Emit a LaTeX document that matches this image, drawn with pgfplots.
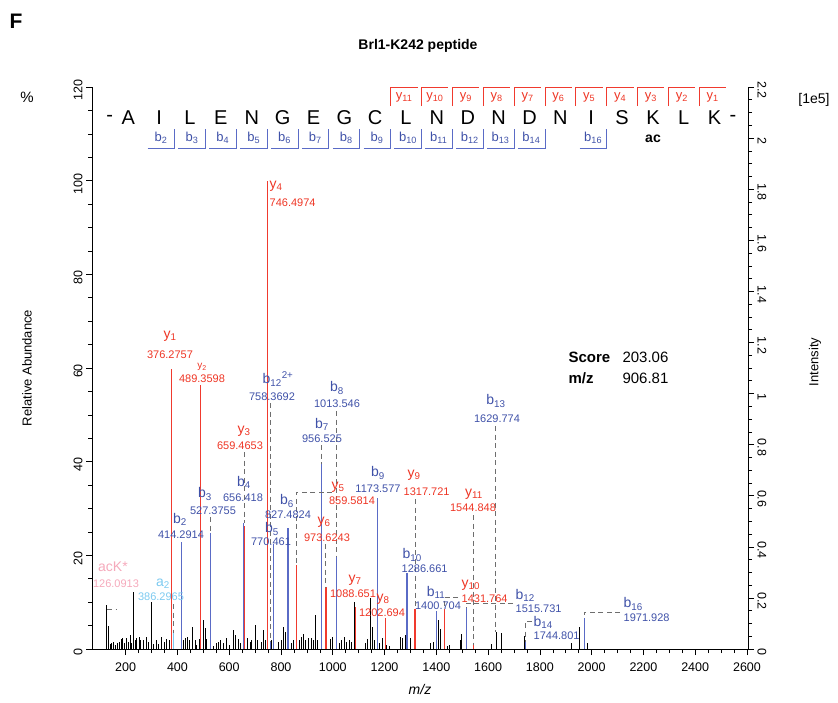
\documentclass[border=0pt]{standalone}
\usepackage{pgfplots}
\pgfplotsset{compat=1.18}
\usepackage{pgfplotstable}
\usepackage{fontspec}
\setmainfont{Liberation Sans}
\definecolor{yred}{HTML}{EE3524}
\definecolor{ylin}{HTML}{F03A2E}
\definecolor{bblue}{HTML}{3F51A8}
\definecolor{blin}{HTML}{5A6BC6}
\definecolor{alblue}{HTML}{7DCAF0}
\definecolor{pinkc}{HTML}{F5A9BB}
\definecolor{dgray}{HTML}{6E6E6E}

\pgfplotstableread{
mz pct
126.09 9.4
133.3 4.9
139.7 1.0
146.2 1.2
152.6 1.6
160 0.8
168 1.2
175.8 1.6
182.2 2.1
188.7 2.3
193.8 1.2
201.5 2.4
210.5 1.6
217 3.0
223.4 1.2
229.9 12.2
236.3 1.9
242.8 2.3
253 2.6
258.2 1.9
268.5 1.9
278.8 2.6
287.8 1.6
300.7 10.1
307.1 1.0
317.4 1.9
326.4 1.0
339.3 2.6
348.3 1.6
358.6 2.1
368.9 1.9
423 1.9
429.4 2.3
438.4 2.6
446.2 1.9
459.1 4.6
468 1.9
474.5 0.8
484.8 2.1
500.2 6.2
506.7 4.4
513.1 2.1
538.9 0.7
551.8 1.2
558.2 1.6
564.6 1.9
577.5 1.2
590.4 2.4
599.4 0.9
616.1 4.1
625.1 3.0
635.4 2.1
644.5 1.2
671.5 2.3
680.5 1.6
687 1.9
702.4 5.1
708.8 1.9
723 1.6
732 4.1
738.4 1.9
764.2 1.9
789.9 1.6
800.2 1.9
809.2 4.6
815.7 3.7
838.9 1.2
847.9 1.9
869.8 1.9
880.1 2.6
886.5 3.3
895.5 1.9
905.8 2.3
916.1 2.3
925.1 2.0
931.6 7.3
940.6 1.9
989.5 2.1
998.5 2.6
1024.3 1.2
1034.6 1.9
1044.9 2.6
1053.9 1.6
1062.9 1.9
1073.2 1.6
1082.2 10.1
1124.7 1.2
1133.7 2.1
1144 10.8
1154.3 4.6
1160.7 1.9
1180 1.2
1191.6 2.4
1208.4 0.9
1218.7 0.7
1260 2.6
1270.2 2.3
1279.2 3.0
1298.5 2.4
1375.8 1.2
1388.6 1.6
1407.9 6.3
1414.4 4.3
1442.7 0.7
1450.4 0.9
1491.6 1.9
1498.1 3.2
1611.4 1.0
1631 3.7
1650 3.5
1740 2.8
1922.9 1.2
1952.6 4.8
1983.4 1.2
}\blackpeaks

\pgfplotstableread{
mz pct
376.2757 59.7
489.3598 56.4
659.4653 26.2
746.4974 100
859.5814 17.9
973.6243 13.2
1088.651 9.0
1202.694 6.6
1317.721 8.5
1431.764 8.6
1544.848 0.8
}\ypeaks

\pgfplotstableread{
mz pct
414.2914 22.9
527.3755 24.7
656.418 26.8
758.3692 1.5
770.461 22.4
827.4824 25.8
956.525 39.4
1013.546 19.9
1173.577 32.2
1286.661 16.2
1400.704 8.1
1515.731 8.7
1744.801 1.5
1971.928 6.6
}\bpeaks

\pgfplotstableread{
mz pct
386.2965 3.4
}\apeaks

\begin{document}
\begin{tikzpicture}
\begin{scope}[x=1pt,y=-1pt]
\useasboundingbox (0,0) rectangle (838,702);
\end{scope}

\begin{axis}[
  at={(92pt,-649pt)}, anchor=south west,
  scale only axis, width=656pt, height=562pt,
  xmin=70, xmax=2604, ymin=0, ymax=120,
  axis x line*=bottom, axis y line*=left,
  xtick={200,400,...,2600}, minor x tick num=3,
  ytick={0,20,...,120}, minor y tick num=3,
  tick align=outside,
  major tick length=6pt, minor tick length=4pt,
  every tick/.style={black, line width=0.6pt},
  axis line style={line width=0.8pt},
  /pgf/number format/assume math mode=true,
  /pgf/number format/1000 sep={},
  xticklabel style={font=\fontsize{12.5}{14}\selectfont, yshift=-4pt},
  yticklabel style={font=\fontsize{12.5}{14}\selectfont, rotate=90, anchor=south, xshift=-3pt},
  clip=false,
]
\addplot[ycomb, black, line width=1pt, no markers] table[x=mz,y=pct] {\blackpeaks};
\addplot[ycomb, ylin, line width=1.2pt, no markers] table[x=mz,y=pct] {\ypeaks};
\addplot[ycomb, blin, line width=1.2pt, no markers] table[x=mz,y=pct] {\bpeaks};
\addplot[ycomb, alblue, line width=1.2pt, no markers] table[x=mz,y=pct] {\apeaks};
\end{axis}

\begin{axis}[
  at={(92pt,-649pt)}, anchor=south west,
  scale only axis, width=656pt, height=562pt,
  xmin=70, xmax=2604, ymin=0, ymax=2.2,
  axis y line*=right, hide x axis,
  ytick={0,0.2,0.4,0.6,0.8,1,1.2,1.4,1.6,1.8,2,2.2}, minor y tick num=3,
  tick align=outside,
  major tick length=6pt, minor tick length=4pt,
  every tick/.style={black, line width=0.6pt},
  axis line style={line width=0.8pt},
  /pgf/number format/assume math mode=true,
  yticklabel style={font=\fontsize{12.5}{14}\selectfont, rotate=-90, anchor=south, xshift=3pt},
]
\addplot[draw=none] coordinates {(100,0)};
\end{axis}

\begin{scope}[x=1pt,y=-1pt]
% titles and axis labels
\node[font=\fontsize{21}{24}\selectfont\bfseries] at (16,21) {F};
\node[font=\fontsize{14}{17}\selectfont\bfseries] at (418,46) {Brl1-K242 peptide};
\node[font=\fontsize{15}{18}\selectfont] at (27,97) {\%};
\node[font=\fontsize{14}{17}\selectfont] at (814,100) {[1e5]};
\node[font=\fontsize{13}{16}\selectfont, rotate=90] at (27,368) {Relative Abundance};
\node[font=\fontsize{13}{16}\selectfont, rotate=90] at (815,362) {Intensity};
\node[font=\fontsize{14}{17}\selectfont\itshape] at (420,689) {m/z};

% sequence
\node[font=\fontsize{20}{24}\selectfont] at (109.6,118) {-};
\node[font=\fontsize{20}{24}\selectfont] at (733,118) {-};
\foreach \l [count=\i] in {A,I,L,E,N,G,E,G,C,L,N,D,N,D,N,I,S,K,L,K}
  \node[font=\fontsize{20}{24}\selectfont] at ({128.3+(\i-1)*30.86},118) {\l};
\node[font=\fontsize{14}{16}\selectfont\bfseries] at (653,139) {ac};
\foreach \k in {1,...,11} {
  \pgfmathsetmacro\cx{128.3+(19-\k)*30.86+15.43}
  \draw[ylin, line width=0.8pt] (\cx,106) -- (\cx,87) -- (\cx+27,87);
  \node[yred, font=\fontsize{13}{14}\selectfont] at (\cx+13.5,97) {y\textsubscript{\k}};
}
\foreach \n in {2,...,14,16} {
  \pgfmathsetmacro\cx{128.3+(\n-1)*30.86+15.43}
  \draw[blin, line width=0.8pt] (\cx-27,148) -- (\cx,148) -- (\cx,129);
  \node[bblue, font=\fontsize{13}{14}\selectfont] at (\cx-13.5,138) {b\textsubscript{\n}};
}

% score
\node[anchor=west, font=\fontsize{15}{18}\selectfont\bfseries] at (565,357) {Score};
\node[anchor=west, font=\fontsize{15}{18}\selectfont] at (619,357) {203.06};
\node[anchor=west, font=\fontsize{15}{18}\selectfont\bfseries] at (565,378) {m/z};
\node[anchor=west, font=\fontsize{15}{18}\selectfont] at (619,378) {906.81};

% leader lines
\begin{scope}[dgray, line width=0.9pt, dash pattern=on 5pt off 3.5pt]
\draw (107,609) -- (116,609);
\draw (173.8,604) -- (173.8,633);
\draw (270.2,403) -- (270.2,642);
\draw (244.6,452) -- (244.6,523);
\draw (210.4,517) -- (210.4,533);
\draw (321.5,445) -- (321.5,464);
\draw (336.2,411) -- (336.2,556);
\draw (332,492) -- (296.4,492) -- (296.4,565);
\draw (325.9,544) -- (325.9,587);
\draw (415,499) -- (415,609);
\draw (473.8,515) -- (473.8,645);
\draw (495.8,426) -- (495.8,632);
\draw (458,597) -- (444.5,597) -- (444.5,609);
\draw (513,603) -- (466.2,603) -- (466.2,608);
\draw (532,621) -- (525.6,621) -- (525.6,642);
\draw (620,612) -- (584.4,612) -- (584.4,618);
\end{scope}

% peak labels
\tikzset{nm/.style={font=\fontsize{14}{16}\selectfont, inner sep=0.5pt}, nu/.style={font=\fontsize{11}{13}\selectfont, inner sep=0.5pt}}
\node[nm, pinkc] at (113,567) {acK*};
\node[nu, pinkc] at (116,584) {126.0913};
\node[nm, alblue] at (163,584) {a\textsubscript{2}};
\node[nu, alblue] at (161,597) {386.2965};
\node[nm, yred] at (170,336) {y\textsubscript{1}};
\node[nu, yred] at (170,355) {376.2757};
\node[nm, yred, font=\fontsize{10}{12}\selectfont] at (202,367) {y\textsubscript{2}};
\node[nu, yred] at (202,379) {489.3598};
\node[nm, yred] at (244,431) {y\textsubscript{3}};
\node[nu, yred] at (240,446) {659.4653};
\node[nm, yred, anchor=west] at (269,186) {y\textsubscript{4}};
\node[nu, yred, anchor=west] at (269,203) {746.4974};
\node[nm, yred] at (338,487) {y\textsubscript{5}};
\node[nu, yred] at (352,501) {859.5814};
\node[nm, yred] at (324,522) {y\textsubscript{6}};
\node[nu, yred] at (327,538) {973.6243};
\node[nm, yred] at (355,580) {y\textsubscript{7}};
\node[nu, yred] at (353,594) {1088.651};
\node[nm, yred] at (383,599) {y\textsubscript{8}};
\node[nu, yred] at (382,613) {1202.694};
\node[nm, yred, anchor=west] at (407,475) {y\textsubscript{9}};
\node[nu, yred, anchor=west] at (403,492) {1317.721};
\node[nm, yred, anchor=west] at (461,585) {y\textsubscript{10}};
\node[nu, yred, anchor=west] at (461,599) {1431.764};
\node[nm, yred] at (474,494) {y\textsubscript{11}};
\node[nu, yred] at (473,508) {1544.848};
\node[nm, bblue] at (180,519) {b\textsubscript{2}};
\node[nu, bblue] at (181,535) {414.2914};
\node[nm, bblue] at (205,494) {b\textsubscript{3}};
\node[nu, bblue] at (213,511) {527.3755};
\node[nm, bblue] at (244,482) {b\textsubscript{4}};
\node[nu, bblue] at (243,498) {656.418};
\node[nm, bblue] at (272,529) {b\textsubscript{5}};
\node[nu, bblue] at (271,542) {770.461};
\node[nm, bblue] at (287,501) {b\textsubscript{6}};
\node[nu, bblue] at (288,515) {827.4824};
\node[nm, bblue] at (322,424) {b\textsubscript{7}};
\node[nu, bblue] at (322,439) {956.525};
\node[nm, bblue] at (337,388) {b\textsubscript{8}};
\node[nu, bblue] at (337,404) {1013.546};
\node[nm, bblue] at (378,473) {b\textsubscript{9}};
\node[nu, bblue] at (378,489) {1173.577};
\node[nm, bblue, anchor=west] at (402,555) {b\textsubscript{10}};
\node[nu, bblue, anchor=west] at (401,569) {1286.661};
\node[nm, bblue] at (436,592) {b\textsubscript{11}};
\node[nu, bblue] at (438,606) {1400.704};
\node[nm, bblue] at (278,379) {b\textsubscript{12}\textsuperscript{2+}};
\node[nu, bblue] at (272,397) {758.3692};
\node[nm, bblue, anchor=west] at (515,595) {b\textsubscript{12}};
\node[nu, bblue, anchor=west] at (515,609) {1515.731};
\node[nm, bblue] at (496,401) {b\textsubscript{13}};
\node[nu, bblue] at (497,419) {1629.774};
\node[nm, bblue, anchor=west] at (533,622) {b\textsubscript{14}};
\node[nu, bblue, anchor=west] at (533,636) {1744.801};
\node[nm, bblue, anchor=west] at (623,604) {b\textsubscript{16}};
\node[nu, bblue, anchor=west] at (623,618) {1971.928};
\end{scope}
\end{tikzpicture}
\end{document}
